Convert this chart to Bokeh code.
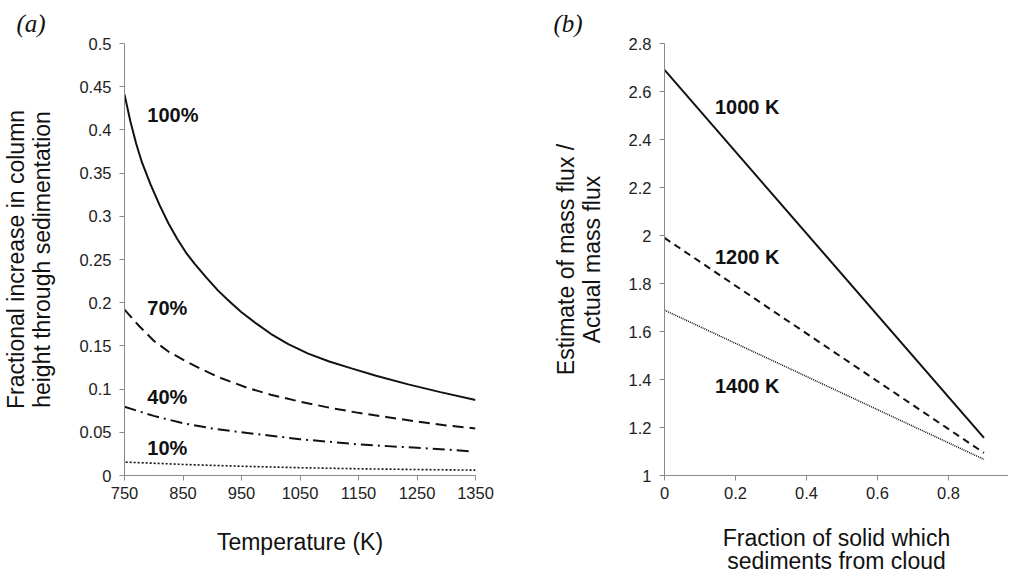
from bokeh.plotting import figure
from bokeh.layouts import row
from bokeh.models import FixedTicker
from bokeh.embed import file_html
from bokeh.resources import INLINE
from bokeh.core.properties import value

# ---------------- Panel (a) data ----------------
temp_100 = [750, 760, 770, 780, 795, 810, 825, 840, 855, 870, 890, 910, 930, 950, 975, 1000,
            1030, 1064, 1100, 1138, 1180, 1235, 1290, 1350]
frac_100 = [0.441, 0.410, 0.384, 0.362, 0.336, 0.313, 0.292, 0.274, 0.258, 0.245, 0.229, 0.214,
            0.201, 0.189, 0.176, 0.164, 0.152, 0.141, 0.132, 0.124, 0.1155, 0.1055, 0.0965, 0.0875]

temp_70 = [750, 775, 800, 825, 855, 880, 912, 960, 1000, 1050, 1100, 1150, 1200, 1250, 1300, 1350]
frac_70 = [0.192, 0.173, 0.156, 0.1435, 0.1323, 0.1235, 0.1135, 0.1015, 0.0935, 0.0855, 0.0785,
           0.0725, 0.0675, 0.0625, 0.058, 0.0545]

temp_40 = [750, 800, 850, 900, 950, 1000, 1050, 1100, 1150, 1200, 1250, 1300, 1340]
frac_40 = [0.0795, 0.069, 0.0605, 0.0545, 0.050, 0.046, 0.042, 0.039, 0.036, 0.034, 0.032, 0.030, 0.028]

temp_10 = [752, 850, 950, 1050, 1150, 1250, 1350]
frac_10 = [0.0155, 0.0128, 0.0107, 0.0090, 0.0078, 0.0069, 0.0062]

a_labels = ["100%", "70%", "40%", "10%"]
a_label_x = [789, 789, 789, 789]
a_label_y = [0.4167, 0.1933, 0.0914, 0.0313]

a_xticks = [750, 850, 950, 1050, 1150, 1250, 1350]
a_yticks = [0, 0.05, 0.1, 0.15, 0.2, 0.25, 0.3, 0.35, 0.4, 0.45, 0.5]
a_ytick_labels = ["0", "0.05", "0.1", "0.15", "0.2", "0.25", "0.3", "0.35", "0.4", "0.45", "0.5"]

# ---------------- Panel (b) data ----------------
fraction = [0.0, 0.9]
est_1000 = [2.69, 1.157]
est_1200 = [1.99, 1.094]
est_1400 = [1.689, 1.067]

b_labels = ["1000 K", "1200 K", "1400 K"]
b_label_x = [0.142, 0.142, 0.142]
b_label_y = [2.535, 1.91, 1.371]

b_xticks = [0, 0.2, 0.4, 0.6, 0.8, 1.0]
b_xtick_labels = ["0", "0.2", "0.4", "0.6", "0.8", "1"]
b_yticks = [1, 1.2, 1.4, 1.6, 1.8, 2, 2.2, 2.4, 2.6, 2.8]
b_ytick_labels = ["1", "1.2", "1.4", "1.6", "1.8", "2", "2.2", "2.4", "2.6", "2.8"]

FONT = "Liberation Sans"
AXIS_COL = "#8a8a8a"
INK = "#111111"


def style(p, title, title_offset):
    p.title.text = title
    p.title.text_font = "Liberation Serif"
    p.title.text_font_style = "italic"
    p.title.text_font_size = "25px"
    p.title.align = "left"
    p.title.vertical_align = "bottom"
    p.title.offset = title_offset
    p.title.standoff = 14
    p.title.text_color = "#111111"
    p.xgrid.visible = False
    p.ygrid.visible = False
    p.outline_line_color = None
    for ax in (p.xaxis[0], p.yaxis[0]):
        ax.axis_line_color = AXIS_COL
        ax.major_tick_line_color = AXIS_COL
        ax.minor_tick_line_color = None
        ax.major_tick_out = 5
        ax.major_tick_in = 0
        ax.major_label_text_font = FONT
        ax.major_label_text_font_size = "16.5px"
        ax.major_label_text_color = "#222222"
        ax.axis_label_text_font = FONT
        ax.axis_label_text_font_size = "23px"
        ax.axis_label_text_font_style = "normal"
        ax.axis_label_text_color = "#111111"
        ax.axis_label_text_line_height = 1.0
    p.xaxis[0].major_label_standoff = 6
    p.yaxis[0].major_label_standoff = 8


# ---------------- Panel (a) ----------------
p1 = figure(frame_width=351, frame_height=432, x_range=(750, 1350), y_range=(0, 0.5),
            min_border_left=115, min_border_right=66, min_border_top=43, min_border_bottom=82,
            output_backend="svg", toolbar_location=None)
style(p1, "(a)", -108)
p1.xaxis[0].ticker = FixedTicker(ticks=a_xticks)
p1.yaxis[0].ticker = FixedTicker(ticks=a_yticks)
p1.yaxis[0].major_label_overrides = dict(zip(a_yticks, a_ytick_labels))
p1.xaxis[0].axis_label = "Temperature (K)"
p1.xaxis[0].axis_label_standoff = 27
p1.yaxis[0].axis_label = "Fractional increase in column\nheight through sedimentation"
p1.yaxis[0].axis_label_standoff = 21

p1.line(temp_100, frac_100, line_color=INK, line_width=2)
p1.line(temp_70, frac_70, line_color=INK, line_width=2, line_dash="11 6")
p1.line(temp_40, frac_40, line_color=INK, line_width=2, line_dash="12 5 2 5")
p1.line(temp_10, frac_10, line_color=INK, line_width=1.6, line_dash="2 2")
p1.text(a_label_x, a_label_y, text=a_labels, text_font=value(FONT), text_font_style="bold",
        text_font_size="20px", text_baseline="middle", text_align="left", text_color=INK)

# ---------------- Panel (b) ----------------
p2 = figure(frame_width=344, frame_height=432, x_range=(0, 0.969), y_range=(1, 2.8),
            min_border_left=123, min_border_right=0, min_border_top=43, min_border_bottom=82,
            output_backend="svg", toolbar_location=None)
style(p2, "(b)", -111)
p2.xaxis[0].ticker = FixedTicker(ticks=b_xticks)
p2.xaxis[0].major_label_overrides = dict(zip(b_xticks, b_xtick_labels))
p2.yaxis[0].ticker = FixedTicker(ticks=b_yticks)
p2.yaxis[0].major_label_overrides = dict(zip(b_yticks, b_ytick_labels))
p2.xaxis[0].axis_label = "Fraction of solid which\nsediments from cloud"
p2.xaxis[0].axis_label_standoff = 23
p2.xaxis[0].axis_label_text_line_height = 0.92
p2.yaxis[0].axis_label = "Estimate of mass flux /\nActual mass flux"
p2.yaxis[0].axis_label_standoff = 21

p2.line(fraction, est_1000, line_color=INK, line_width=2)
p2.line(fraction, est_1200, line_color=INK, line_width=2, line_dash="7 5")
p2.line(fraction, est_1400, line_color=INK, line_width=1.5, line_dash="1 1")
p2.text(b_label_x, b_label_y, text=b_labels, text_font=value(FONT), text_font_style="bold",
        text_font_size="20px", text_baseline="middle", text_align="left", text_color=INK)

layout = row(p1, p2)
open("out.html", "w").write(file_html(layout, INLINE))
